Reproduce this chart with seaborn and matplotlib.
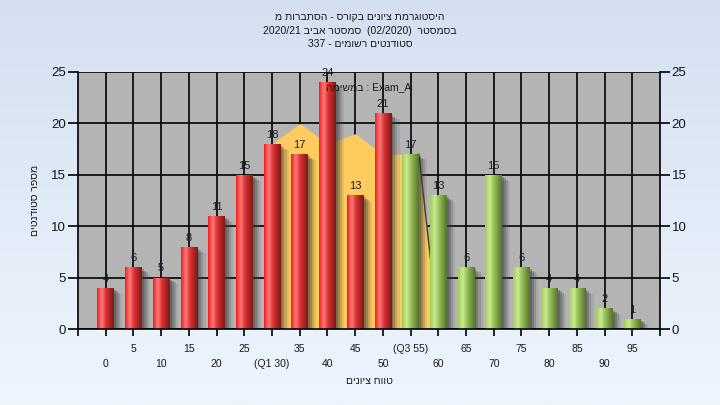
import numpy as np
import pandas as pd
import matplotlib
matplotlib.use("Agg")
import matplotlib.pyplot as plt
import matplotlib.patheffects as pe
import seaborn as sns

# ---------------- data ----------------
bins = [0, 5, 10, 15, 20, 25, 30, 35, 40, 45, 50, 55, 60, 65, 70, 75, 80, 85, 90, 95]
counts = [4, 6, 5, 8, 11, 15, 18, 17, 24, 13, 21, 17, 13, 6, 15, 6, 4, 4, 2, 1]
tick_labels = ["0", "5", "10", "15", "20", "25", "(Q1 30)", "35", "40", "45", "50",
               "(Q3 55)", "60", "65", "70", "75", "80", "85", "90", "95"]
groups = ["low"] * 11 + ["high"] * 9
# background band (comparison area) : grade position / value
band_grades = [30, 35, 40, 45, 50, 56.5, 60]
band_values = [18, 20, 18, 19, 17, 17, 0]

# Hebrew strings in visual (left-to-right drawing) order
title_lines = ["מ תורבתסה - סרוקב םינויצ תמרגוטסיה",
               "2020/21 ביבא רטסמס  (02/2020)  רטסמסב",
               "337 - םימושר םיטנדוטס"]
xlabel_txt = "םינויצ חווט"
ylabel_txt = "םיטנדוטס רפסמ"
legend_txt = "המישמב : Exam_A"

FAM = ["Liberation Sans", "DejaVu Sans"]
plt.rcParams["font.family"] = FAM

df = pd.DataFrame({"bin": tick_labels, "count": counts, "group": groups})

fig = plt.figure(figsize=(7.2, 4.05), dpi=100)

# figure background gradient
bg = fig.add_axes([0, 0, 1, 1], zorder=-10)
top_c = np.array([212, 224, 241]) / 255.0
bot_c = np.array([238, 245, 253]) / 255.0
t = np.linspace(0, 1, 200)[:, None]
grad = (top_c[None, :] * (1 - t) + bot_c[None, :] * t)[:, None, :]
bg.imshow(grad, aspect="auto", extent=[0, 1, 0, 1], origin="upper")
bg.axis("off")

ax = fig.add_axes([78 / 720, 76 / 405, 582 / 720, 257 / 405])
ax.set_facecolor("#b4b4b4")

sns.barplot(data=df, x="bin", y="count", hue="group", order=tick_labels,
            palette={"low": "#e02a2a", "high": "#9ccc5a"}, width=0.6,
            dodge=False, legend=False, saturation=1, ax=ax, zorder=1)

# comparison band
bx = [g / 5 for g in band_grades]
ax.fill_between(bx, band_values, 0, color="#fecb5e", lw=0, zorder=0.9)
ax.plot(bx[-2:], band_values[-2:], color="#3a3a3a", lw=1.0, zorder=0.95)

# gradients + shadows on bars
stops = {
    "low": [(0.0, (240, 30, 30)), (0.28, (255, 122, 122)), (0.55, (218, 48, 48)), (1.0, (125, 25, 25))],
    "high": [(0.0, (160, 205, 85)), (0.28, (205, 232, 150)), (0.55, (150, 190, 85)), (1.0, (85, 115, 45))],
}

def make_grad(st):
    xs = np.linspace(0, 1, 64)
    pos = [s[0] for s in st]
    cols = np.array([s[1] for s in st]) / 255.0
    arr = np.stack([np.interp(xs, pos, cols[:, k]) for k in range(3)], axis=-1)
    return arr[None, :, :]

for p in list(ax.patches):
    h = p.get_height()
    if h <= 0:
        continue
    x0 = p.get_x()
    w = p.get_width()
    idx = int(round(x0 + w / 2))
    p.set_path_effects([
        pe.SimplePatchShadow(offset=(1.5, -1.5), shadow_rgbFace="#303030", alpha=0.3),
        pe.SimplePatchShadow(offset=(3.0, -2.5), shadow_rgbFace="#303030", alpha=0.28),
        pe.SimplePatchShadow(offset=(4.5, -3.5), shadow_rgbFace="#404040", alpha=0.2),
        pe.SimplePatchShadow(offset=(6.0, -4.5), shadow_rgbFace="#505050", alpha=0.12),
        pe.Normal()])
    im = ax.imshow(make_grad(stops[groups[idx]]), aspect="auto",
                   extent=[x0, x0 + w, 0, h], zorder=1.5, interpolation="bilinear")
    im.set_clip_path(p)

for cont in ax.containers:
    ax.bar_label(cont, padding=3, fontsize=8, color="#1c1c30", zorder=3)

ax.set_xlim(-1, 20)
ax.set_ylim(0, 25)
ax.set_yticks([0, 5, 10, 15, 20, 25])
ax.set_xticks(range(len(bins)))
ax.set_xticklabels([lab + "\n" if i % 2 == 1 else "\n" + lab for i, lab in enumerate(tick_labels)],
                   fontsize=7.5, color="#1a1a1a", linespacing=1.55)
ax.set_xticks([-1, 20], minor=True)

ax.set_axisbelow(True)
ax.grid(True, color="black", lw=1.2)
ax.grid(False, which="minor")

ax.spines["top"].set_visible(False)
for s in ["left", "right", "bottom"]:
    ax.spines[s].set_color("black")
    ax.spines[s].set_linewidth(1.2)

ax.yaxis.set_ticks_position("both")
ax.tick_params(axis="y", which="both", direction="out", length=7, width=1.2,
               labelsize=9.5, labelcolor="#151515", pad=1.5, labelright=True, labelleft=True)
ax.tick_params(axis="x", which="both", direction="out", length=5, width=1.2, pad=6)

ax.set_xlabel(xlabel_txt, fontsize=7.5, color="#1a1a1a", labelpad=5)
ax.set_ylabel(ylabel_txt, fontsize=7.5, color="#1a1a1a", labelpad=8)

ax.text(0.5, 0.94, legend_txt, transform=ax.transAxes, ha="center", va="center",
        fontsize=7.5, color="#1a1a1a", zorder=4)

for i, line in enumerate(title_lines):
    fig.text(0.5, 1 - (17 + 13.5 * i) / 405, line, ha="center", va="center",
             fontsize=7.5, color="#1a1a1a")

fig.savefig("out.png", dpi=100)
